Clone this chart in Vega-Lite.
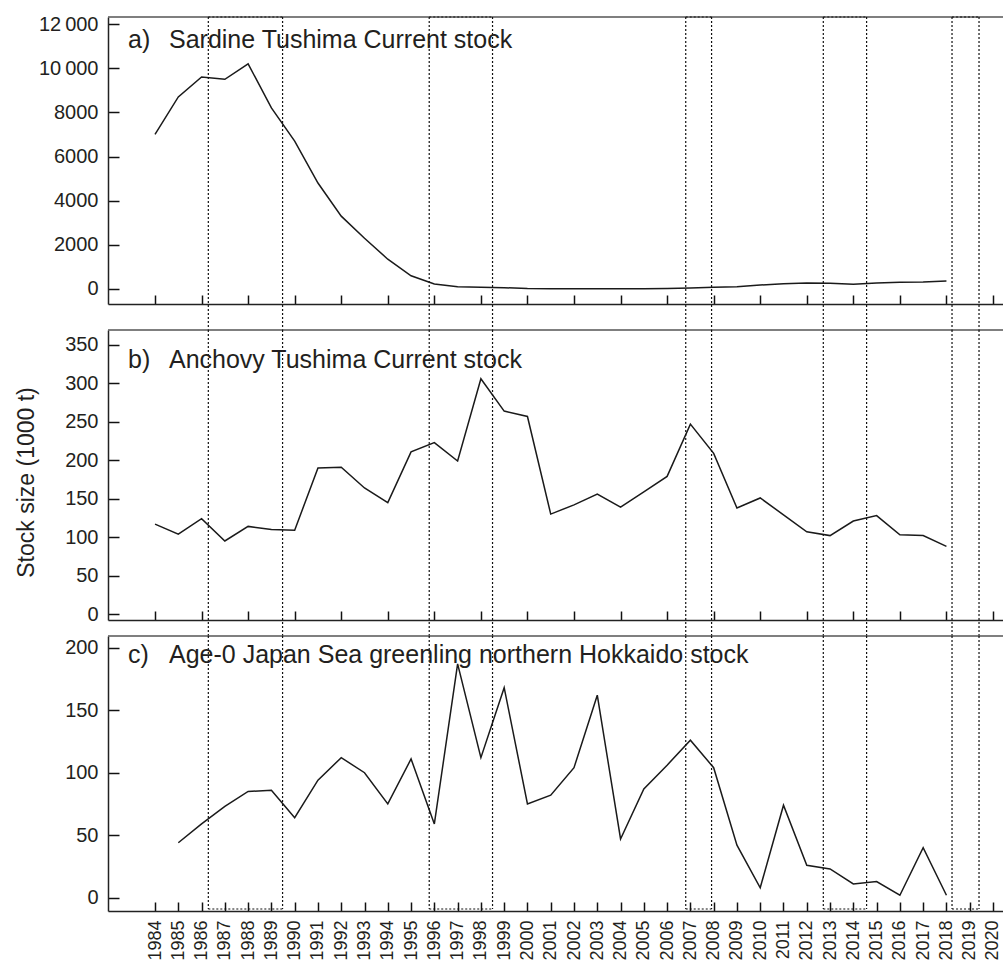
{
  "$schema": "https://vega.github.io/schema/vega-lite/v6.json",
  "padding": {"left": 15, "top": 14, "right": 0, "bottom": 0},
  "bounds": "flush",
  "spacing": 26,
  "datasets": {
    "sardine": [
      {"year": 1984, "stock": 7000}, {"year": 1985, "stock": 8700}, {"year": 1986, "stock": 9600},
      {"year": 1987, "stock": 9500}, {"year": 1988, "stock": 10200}, {"year": 1989, "stock": 8200},
      {"year": 1990, "stock": 6700}, {"year": 1991, "stock": 4800}, {"year": 1992, "stock": 3300},
      {"year": 1993, "stock": 2300}, {"year": 1994, "stock": 1350}, {"year": 1995, "stock": 600},
      {"year": 1996, "stock": 230}, {"year": 1997, "stock": 100}, {"year": 1998, "stock": 80},
      {"year": 1999, "stock": 60}, {"year": 2000, "stock": 20}, {"year": 2001, "stock": 10},
      {"year": 2002, "stock": 10}, {"year": 2003, "stock": 10}, {"year": 2004, "stock": 10},
      {"year": 2005, "stock": 15}, {"year": 2006, "stock": 25}, {"year": 2007, "stock": 45},
      {"year": 2008, "stock": 75}, {"year": 2009, "stock": 105}, {"year": 2010, "stock": 180},
      {"year": 2011, "stock": 240}, {"year": 2012, "stock": 270}, {"year": 2013, "stock": 265},
      {"year": 2014, "stock": 215}, {"year": 2015, "stock": 270}, {"year": 2016, "stock": 300},
      {"year": 2017, "stock": 315}, {"year": 2018, "stock": 360}
    ],
    "anchovy": [
      {"year": 1984, "stock": 117}, {"year": 1985, "stock": 104}, {"year": 1986, "stock": 124},
      {"year": 1987, "stock": 95}, {"year": 1988, "stock": 114}, {"year": 1989, "stock": 110},
      {"year": 1990, "stock": 109}, {"year": 1991, "stock": 190}, {"year": 1992, "stock": 191},
      {"year": 1993, "stock": 164}, {"year": 1994, "stock": 145}, {"year": 1995, "stock": 211},
      {"year": 1996, "stock": 223}, {"year": 1997, "stock": 199}, {"year": 1998, "stock": 306},
      {"year": 1999, "stock": 264}, {"year": 2000, "stock": 257}, {"year": 2001, "stock": 130},
      {"year": 2002, "stock": 142}, {"year": 2003, "stock": 156}, {"year": 2004, "stock": 139},
      {"year": 2005, "stock": 159}, {"year": 2006, "stock": 179}, {"year": 2007, "stock": 247},
      {"year": 2008, "stock": 209}, {"year": 2009, "stock": 138}, {"year": 2010, "stock": 151},
      {"year": 2011, "stock": 129}, {"year": 2012, "stock": 107}, {"year": 2013, "stock": 102},
      {"year": 2014, "stock": 121}, {"year": 2015, "stock": 128}, {"year": 2016, "stock": 103},
      {"year": 2017, "stock": 102}, {"year": 2018, "stock": 88}
    ],
    "greenling": [
      {"year": 1985, "stock": 44}, {"year": 1986, "stock": 59}, {"year": 1987, "stock": 73},
      {"year": 1988, "stock": 85}, {"year": 1989, "stock": 86}, {"year": 1990, "stock": 64},
      {"year": 1991, "stock": 94}, {"year": 1992, "stock": 112}, {"year": 1993, "stock": 100},
      {"year": 1994, "stock": 75}, {"year": 1995, "stock": 111}, {"year": 1996, "stock": 59},
      {"year": 1997, "stock": 187}, {"year": 1998, "stock": 112}, {"year": 1999, "stock": 168},
      {"year": 2000, "stock": 75}, {"year": 2001, "stock": 82}, {"year": 2002, "stock": 104},
      {"year": 2003, "stock": 162}, {"year": 2004, "stock": 47}, {"year": 2005, "stock": 87},
      {"year": 2006, "stock": 106}, {"year": 2007, "stock": 126}, {"year": 2008, "stock": 104},
      {"year": 2009, "stock": 42}, {"year": 2010, "stock": 8}, {"year": 2011, "stock": 74},
      {"year": 2012, "stock": 26}, {"year": 2013, "stock": 23}, {"year": 2014, "stock": 11},
      {"year": 2015, "stock": 13}, {"year": 2016, "stock": 2}, {"year": 2017, "stock": 40},
      {"year": 2018, "stock": 2}
    ],
    "periods": [
      {"start": 1986.29, "end": 1989.48},
      {"start": 1995.78, "end": 1998.5},
      {"start": 2006.8, "end": 2007.91},
      {"start": 2012.71, "end": 2014.57},
      {"start": 2018.24, "end": 2019.4}
    ]
  },
  "vconcat": [
    {
      "width": 895,
      "height": 287,
      "layer": [
        {
          "data": {"name": "sardine"},
          "mark": {"type": "line", "color": "#1a1a1a", "strokeWidth": 1.5},
          "encoding": {
            "x": {"field": "year", "type": "quantitative", "title": null,
                  "scale": {"domain": [1981.98, 2020.43], "nice": false, "zero": false},
                  "axis": {"values": [1984,1985,1986,1987,1988,1989,1990,1991,1992,1993,1994,1995,1996,1997,1998,1999,2000,2001,2002,2003,2004,2005,2006,2007,2008,2009,2010,2011,2012,2013,2014,2015,2016,2017,2018,2019,2020],
                           "labels": false, "tickSize": -9}},
            "y": {"field": "stock", "type": "quantitative", "title": null,
                  "scale": {"domain": [-680, 12320], "nice": false, "zero": false},
                  "axis": {"values": [0, 2000, 4000, 6000, 8000, 10000, 12000], "tickSize": -11, "labelPadding": 21,
                           "labelExpr": "datum.value >= 10000 ? replace(format(datum.value, ','), ',', '\u2009') : format(datum.value, 'd')"}}
          }
        },
        {
          "data": {"values": [{}]},
          "mark": {"type": "rule", "color": "#555", "strokeWidth": 1.5},
          "encoding": {"y": {"datum": 12320, "type": "quantitative", "scale": {"domain": [-680, 12320], "nice": false, "zero": false}}}
        },
        {
          "data": {"name": "periods"},
          "mark": {"type": "rule", "color": "#111", "strokeWidth": 1.2, "strokeDash": [2, 2]},
          "encoding": {
            "x": {"field": "start", "type": "quantitative", "title": null, "scale": {"domain": [1981.98, 2020.43], "nice": false, "zero": false}},
            "y": {"datum": 12320, "type": "quantitative", "scale": {"domain": [-680, 12320], "nice": false, "zero": false}},
            "y2": {"datum": -1858}
          }
        },
        {
          "data": {"name": "periods"},
          "mark": {"type": "rule", "color": "#111", "strokeWidth": 1.2, "strokeDash": [2, 2]},
          "encoding": {
            "x": {"field": "end", "type": "quantitative", "title": null, "scale": {"domain": [1981.98, 2020.43], "nice": false, "zero": false}},
            "y": {"datum": 12320, "type": "quantitative", "scale": {"domain": [-680, 12320], "nice": false, "zero": false}},
            "y2": {"datum": -1858}
          }
        },
        {
          "data": {"name": "periods"},
          "mark": {"type": "rule", "color": "#111", "strokeWidth": 1.2, "strokeDash": [2, 2]},
          "encoding": {
            "x": {"field": "start", "type": "quantitative", "title": null, "scale": {"domain": [1981.98, 2020.43], "nice": false, "zero": false}},
            "x2": {"field": "end"},
            "y": {"datum": 12320, "type": "quantitative", "scale": {"domain": [-680, 12320], "nice": false, "zero": false}}
          }
        },
        {
          "data": {"values": [{"letter": "a)", "name": "Sardine Tushima Current stock"}]},
          "mark": {"type": "text", "align": "left", "baseline": "alphabetic", "fontSize": 25, "color": "#231f20"},
          "encoding": {
            "x": {"datum": 1982.84, "type": "quantitative", "scale": {"domain": [1981.98, 2020.43], "nice": false, "zero": false}},
            "y": {"datum": 10900, "type": "quantitative", "scale": {"domain": [-680, 12320], "nice": false, "zero": false}},
            "text": {"field": "letter"}
          }
        },
        {
          "data": {"values": [{"letter": "a)", "name": "Sardine Tushima Current stock"}]},
          "mark": {"type": "text", "align": "left", "baseline": "alphabetic", "fontSize": 25, "color": "#231f20"},
          "encoding": {
            "x": {"datum": 1984.6, "type": "quantitative", "scale": {"domain": [1981.98, 2020.43], "nice": false, "zero": false}},
            "y": {"datum": 10900, "type": "quantitative", "scale": {"domain": [-680, 12320], "nice": false, "zero": false}},
            "text": {"field": "name"}
          }
        }
      ]
    },
    {
      "bounds": "flush",
      "spacing": 16,
      "vconcat": [
        {
          "width": 895,
          "height": 290,
          "layer": [
            {
              "data": {"name": "anchovy"},
              "mark": {"type": "line", "color": "#1a1a1a", "strokeWidth": 1.5},
              "encoding": {
                "x": {"field": "year", "type": "quantitative", "title": null,
                      "scale": {"domain": [1981.98, 2020.43], "nice": false, "zero": false},
                      "axis": {"values": [1984,1985,1986,1987,1988,1989,1990,1991,1992,1993,1994,1995,1996,1997,1998,1999,2000,2001,2002,2003,2004,2005,2006,2007,2008,2009,2010,2011,2012,2013,2014,2015,2016,2017,2018,2019,2020],
                               "labels": false, "tickSize": -9}},
                "y": {"field": "stock", "type": "quantitative", "title": "Stock size (1000 t)",
                      "scale": {"domain": [-7.8, 369.5], "nice": false, "zero": false},
                      "axis": {"values": [0, 50, 100, 150, 200, 250, 300, 350], "tickSize": -11, "labelPadding": 21,
                               "titleX": -75, "titleY": 152, "titleAngle": 270, "titleAlign": "center", "titleBaseline": "alphabetic",
                               "titleFontSize": 23, "titleFontWeight": "normal", "titleColor": "#231f20"}}
              }
            },
            {
              "data": {"values": [{}]},
              "mark": {"type": "rule", "color": "#555", "strokeWidth": 1.5},
              "encoding": {"y": {"datum": 369.5, "type": "quantitative", "scale": {"domain": [-7.8, 369.5], "nice": false, "zero": false}}}
            },
            {
              "data": {"name": "periods"},
              "mark": {"type": "rule", "color": "#111", "strokeWidth": 1.2, "strokeDash": [2, 2]},
              "encoding": {
                "x": {"field": "start", "type": "quantitative", "title": null, "scale": {"domain": [1981.98, 2020.43], "nice": false, "zero": false}},
                "y": {"datum": 369.5, "type": "quantitative", "scale": {"domain": [-7.8, 369.5], "nice": false, "zero": false}},
                "y2": {"datum": -28.6}
              }
            },
            {
              "data": {"name": "periods"},
              "mark": {"type": "rule", "color": "#111", "strokeWidth": 1.2, "strokeDash": [2, 2]},
              "encoding": {
                "x": {"field": "end", "type": "quantitative", "title": null, "scale": {"domain": [1981.98, 2020.43], "nice": false, "zero": false}},
                "y": {"datum": 369.5, "type": "quantitative", "scale": {"domain": [-7.8, 369.5], "nice": false, "zero": false}},
                "y2": {"datum": -28.6}
              }
            },
            {
              "data": {"values": [{"letter": "b)", "name": "Anchovy Tushima Current stock"}]},
              "mark": {"type": "text", "align": "left", "baseline": "alphabetic", "fontSize": 25, "color": "#231f20"},
              "encoding": {
                "x": {"datum": 1982.84, "type": "quantitative", "scale": {"domain": [1981.98, 2020.43], "nice": false, "zero": false}},
                "y": {"datum": 319.7, "type": "quantitative", "scale": {"domain": [-7.8, 369.5], "nice": false, "zero": false}},
                "text": {"field": "letter"}
              }
            },
            {
              "data": {"values": [{"letter": "b)", "name": "Anchovy Tushima Current stock"}]},
              "mark": {"type": "text", "align": "left", "baseline": "alphabetic", "fontSize": 25, "color": "#231f20"},
              "encoding": {
                "x": {"datum": 1984.6, "type": "quantitative", "scale": {"domain": [1981.98, 2020.43], "nice": false, "zero": false}},
                "y": {"datum": 319.7, "type": "quantitative", "scale": {"domain": [-7.8, 369.5], "nice": false, "zero": false}},
                "text": {"field": "name"}
              }
            }
          ]
        },
        {
          "width": 895,
          "height": 275,
          "layer": [
            {
              "data": {"name": "greenling"},
              "mark": {"type": "line", "color": "#1a1a1a", "strokeWidth": 1.5},
              "encoding": {
                "x": {"field": "year", "type": "quantitative", "title": null,
                      "scale": {"domain": [1981.98, 2020.43], "nice": false, "zero": false},
                      "axis": {"values": [1984,1985,1986,1987,1988,1989,1990,1991,1992,1993,1994,1995,1996,1997,1998,1999,2000,2001,2002,2003,2004,2005,2006,2007,2008,2009,2010,2011,2012,2013,2014,2015,2016,2017,2018,2019,2020],
                               "tickCount": 40, "tickMinStep": 1,
                               "format": "d", "tickSize": -9, "labelPadding": 18, "labelAngle": 270,
                               "labelFontSize": 18, "labelOverlap": false, "labelFlush": false}},
                "y": {"field": "stock", "type": "quantitative", "title": null,
                      "scale": {"domain": [-10.6, 209.3], "nice": false, "zero": false},
                      "axis": {"values": [0, 50, 100, 150, 200], "tickSize": -11, "labelPadding": 21}}
              }
            },
            {
              "data": {"values": [{}]},
              "mark": {"type": "rule", "color": "#555", "strokeWidth": 1.5},
              "encoding": {"y": {"datum": 209.3, "type": "quantitative", "scale": {"domain": [-10.6, 209.3], "nice": false, "zero": false}}}
            },
            {
              "data": {"name": "periods"},
              "mark": {"type": "rule", "color": "#111", "strokeWidth": 1.2, "strokeDash": [2, 2]},
              "encoding": {
                "x": {"field": "start", "type": "quantitative", "title": null, "scale": {"domain": [1981.98, 2020.43], "nice": false, "zero": false}},
                "y": {"datum": 209.3, "type": "quantitative", "scale": {"domain": [-10.6, 209.3], "nice": false, "zero": false}},
                "y2": {"datum": -9}
              }
            },
            {
              "data": {"name": "periods"},
              "mark": {"type": "rule", "color": "#111", "strokeWidth": 1.2, "strokeDash": [2, 2]},
              "encoding": {
                "x": {"field": "end", "type": "quantitative", "title": null, "scale": {"domain": [1981.98, 2020.43], "nice": false, "zero": false}},
                "y": {"datum": 209.3, "type": "quantitative", "scale": {"domain": [-10.6, 209.3], "nice": false, "zero": false}},
                "y2": {"datum": -9}
              }
            },
            {
              "data": {"name": "periods"},
              "mark": {"type": "rule", "color": "#111", "strokeWidth": 1.2, "strokeDash": [2, 2]},
              "encoding": {
                "x": {"field": "start", "type": "quantitative", "title": null, "scale": {"domain": [1981.98, 2020.43], "nice": false, "zero": false}},
                "x2": {"field": "end"},
                "y": {"datum": -9, "type": "quantitative", "scale": {"domain": [-10.6, 209.3], "nice": false, "zero": false}}
              }
            },
            {
              "data": {"values": [{"letter": "c)", "name": "Age-0 Japan Sea greenling northern Hokkaido stock"}]},
              "mark": {"type": "text", "align": "left", "baseline": "alphabetic", "fontSize": 25, "color": "#231f20"},
              "encoding": {
                "x": {"datum": 1982.84, "type": "quantitative", "scale": {"domain": [1981.98, 2020.43], "nice": false, "zero": false}},
                "y": {"datum": 187.5, "type": "quantitative", "scale": {"domain": [-10.6, 209.3], "nice": false, "zero": false}},
                "text": {"field": "letter"}
              }
            },
            {
              "data": {"values": [{"letter": "c)", "name": "Age-0 Japan Sea greenling northern Hokkaido stock"}]},
              "mark": {"type": "text", "align": "left", "baseline": "alphabetic", "fontSize": 25, "color": "#231f20"},
              "encoding": {
                "x": {"datum": 1984.6, "type": "quantitative", "scale": {"domain": [1981.98, 2020.43], "nice": false, "zero": false}},
                "y": {"datum": 187.5, "type": "quantitative", "scale": {"domain": [-10.6, 209.3], "nice": false, "zero": false}},
                "text": {"field": "name"}
              }
            }
          ]
        }
      ]
    }
  ],
  "config": {
    "font": "Liberation Sans",
    "view": {"stroke": null},
    "axis": {
      "grid": false,
      "domainColor": "#222",
      "domainWidth": 1.5,
      "tickColor": "#111",
      "tickWidth": 1.5,
      "labelFont": "Liberation Sans",
      "labelFontSize": 20,
      "labelColor": "#231f20",
      "labelFlush": false
    },
    "axisX": {"labelOverlap": false}
  }
}
